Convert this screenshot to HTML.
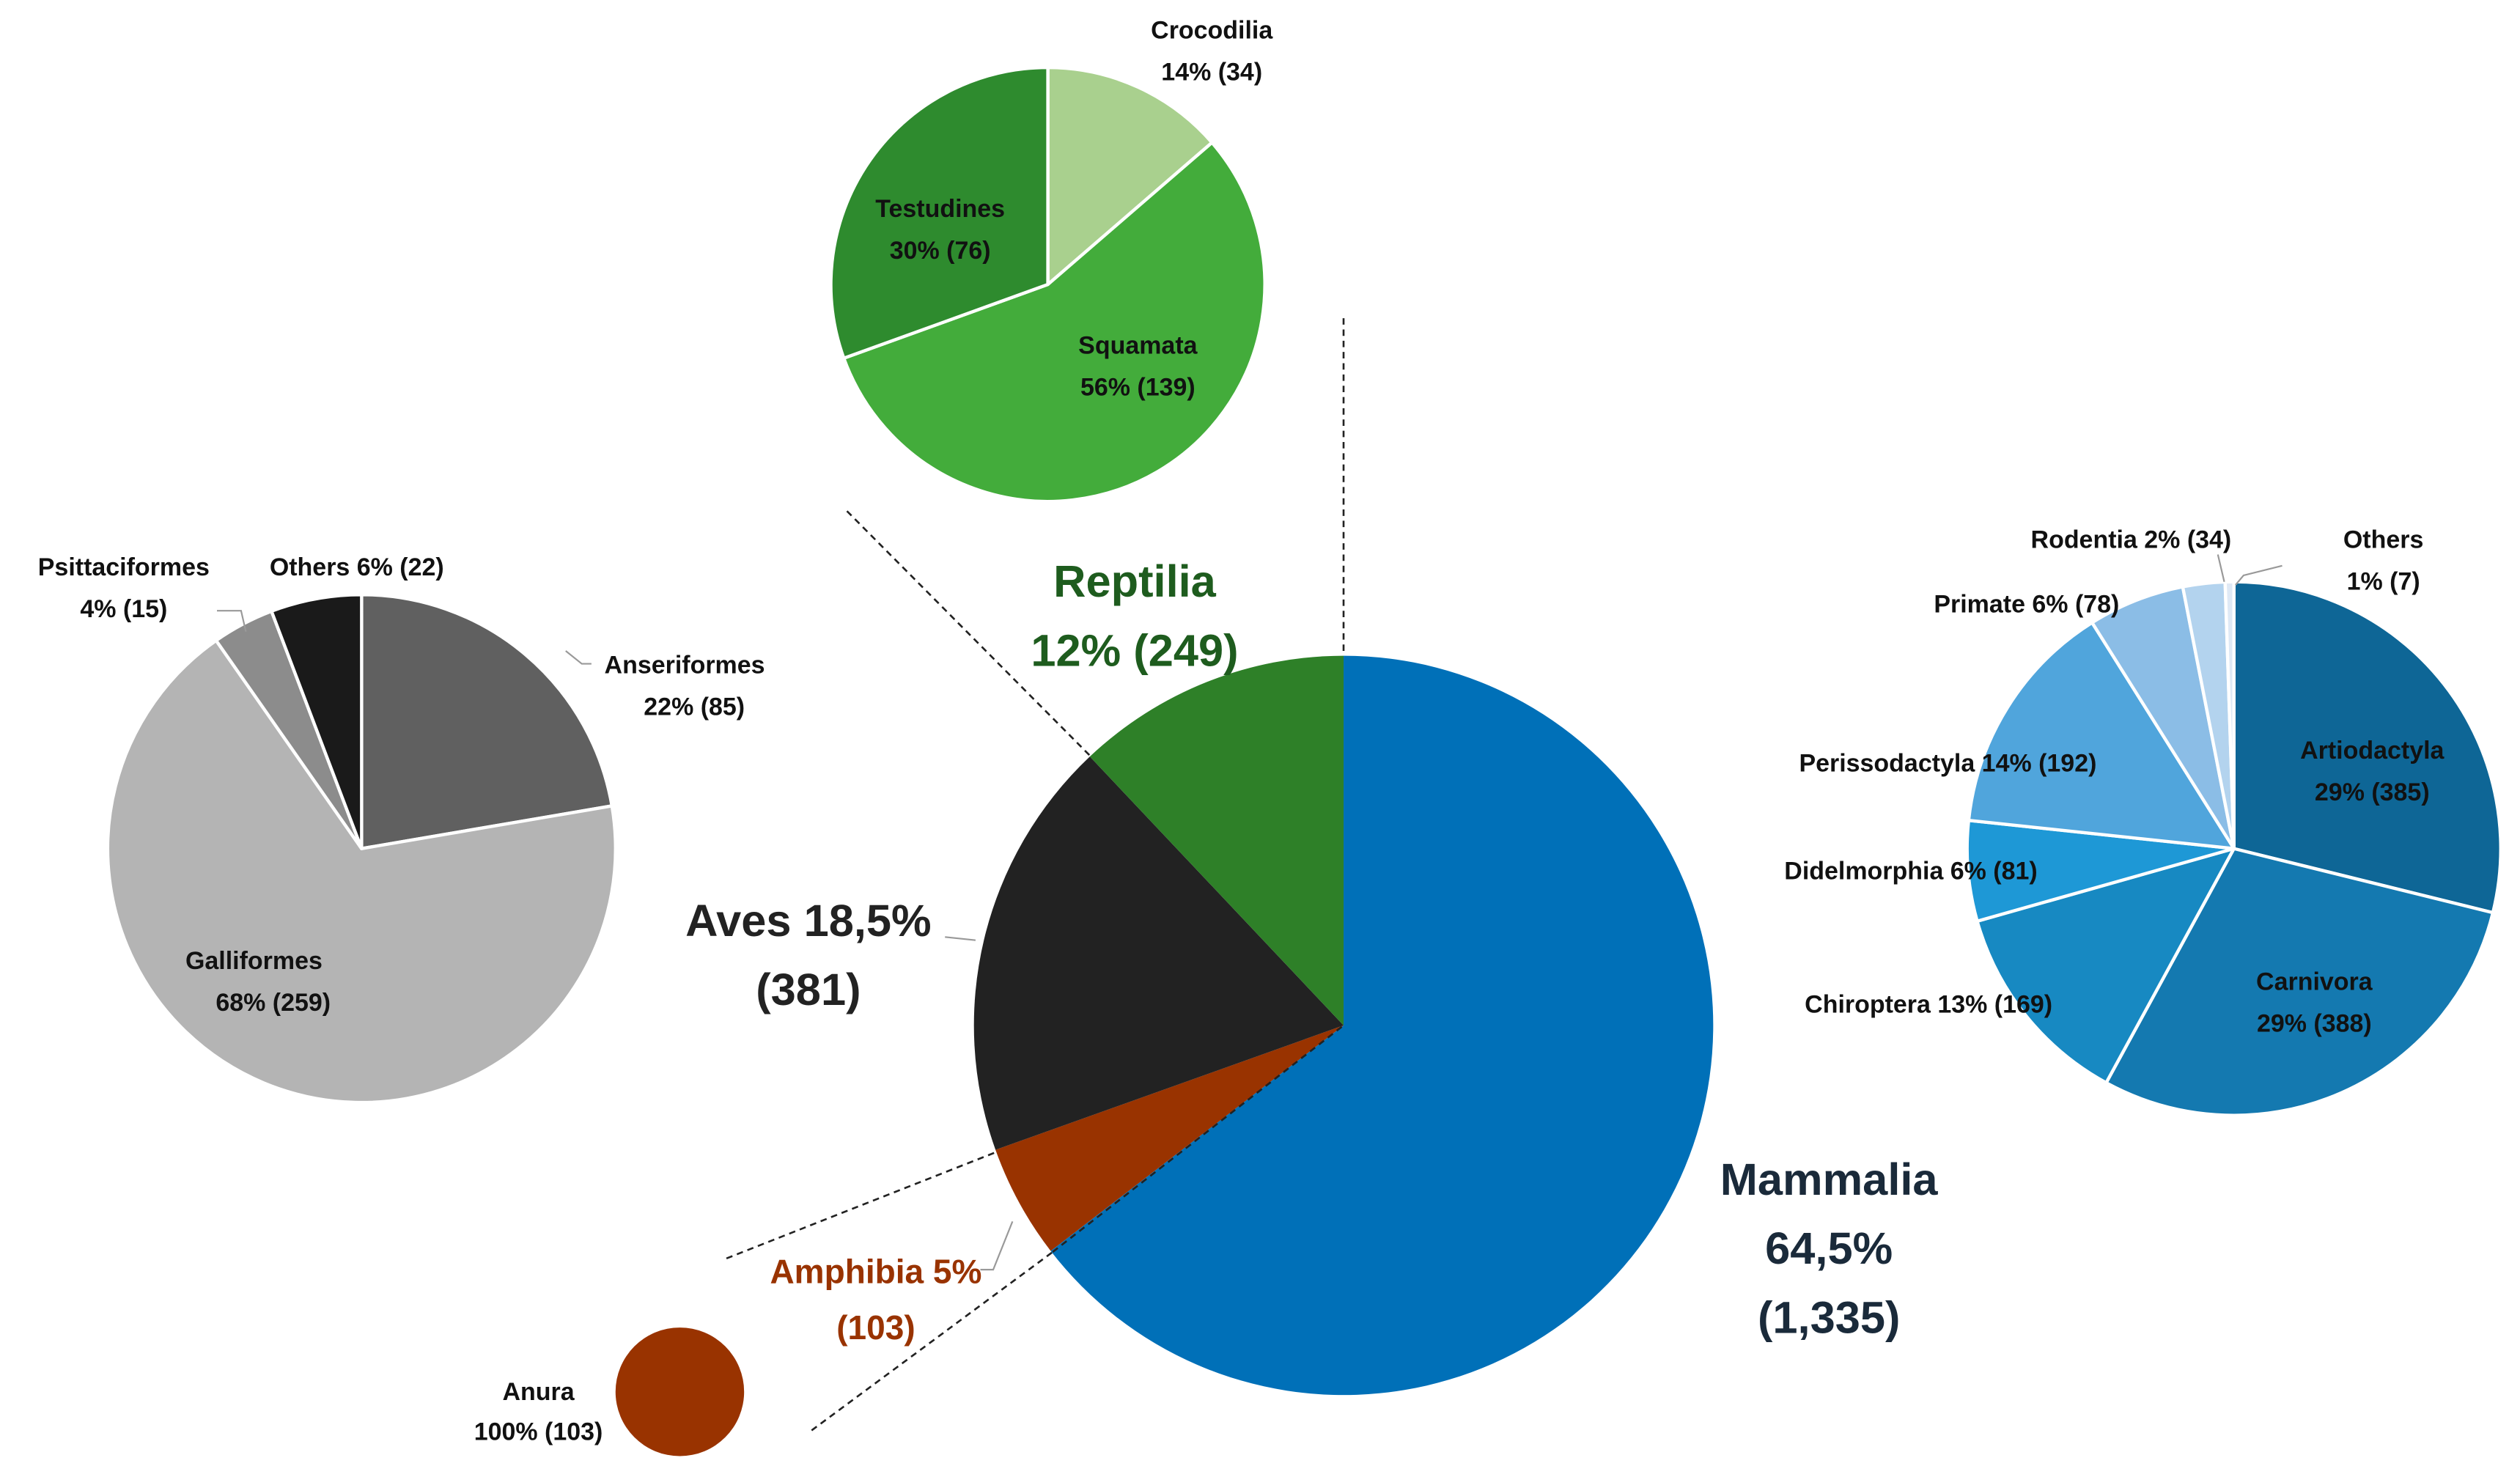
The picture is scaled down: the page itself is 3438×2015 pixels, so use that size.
<!DOCTYPE html>
<html><head><meta charset="utf-8"><style>
html,body{margin:0;padding:0;background:#fff;}
svg{display:block;font-family:"Liberation Sans",sans-serif;font-weight:bold;}
</style></head><body>
<svg id="chart" width="3438" height="2015" viewBox="0 0 1568 919" xmlns="http://www.w3.org/2000/svg">
<g id="lines" stroke="#222" stroke-width="1.2" stroke-dasharray="4,3" fill="none">
  <line x1="527" y1="318" x2="680" y2="472"/>
  <line x1="836" y1="198" x2="836" y2="408"/>
  <line x1="452" y1="783" x2="622" y2="716"/>
  <line x1="505" y1="890" x2="655" y2="779"/>
</g>
<g id="pies"></g>
<line x1="655" y1="779" x2="836" y2="638" stroke="#222" stroke-width="1.2" stroke-dasharray="4,3"/>
<g id="leaders" stroke="#999" stroke-width="1" fill="none">
  <polyline points="588,583 607,585"/>
  <polyline points="610,790 618,790 630,760"/>
  <polyline points="352,405 362,413 368,413"/>
  <polyline points="135,380 150,380 153,393"/>
  <polyline points="1420,352 1396,358 1391,364"/>
  <polyline points="1380,345 1384,362"/>
</g>
<g id="labels"></g>
</svg>
<script>
// Main pie: class counts
const mainCats = ["Mammalia","Amphibia","Aves","Reptilia"];
const mainVals = [1335,103,381,249];
// Reptilia sub-pie
const repCats = ["Crocodilia","Squamata","Testudines"];
const repVals = [34,139,76];
// Aves sub-pie
const avesCats = ["Anseriformes","Galliformes","Psittaciformes","Others"];
const avesVals = [85,259,15,22];
// Mammalia sub-pie
const mamCats = ["Artiodactyla","Carnivora","Chiroptera","Didelmorphia","Perissodactyla","Primate","Rodentia","Others"];
const mamVals = [385,388,169,81,192,78,34,7];
// Amphibia sub-pie
const ampCats = ["Anura"];
const ampVals = [103];

const NS="http://www.w3.org/2000/svg";
const pies=document.getElementById('pies');
function pt(cx,cy,r,a){return [cx+r*Math.sin(a),cy-r*Math.cos(a)];}
function drawPie(name,cats,vals,cx,cy,r,colors,stroke){
  const g=document.createElementNS(NS,'g');
  
  
  pies.appendChild(g);
  const tot=vals.reduce((a,b)=>a+b,0);
  let acc=0;
  cats.forEach((c,i)=>{
    const a0=acc/tot*2*Math.PI; acc+=vals[i]; const a1=acc/tot*2*Math.PI;
    let el;
    if(vals[i]>=tot){
      el=document.createElementNS(NS,'circle');
      el.setAttribute('cx',cx);el.setAttribute('cy',cy);el.setAttribute('r',r);
    } else {
      const p0=pt(cx,cy,r,a0),p1=pt(cx,cy,r,a1);
      el=document.createElementNS(NS,'path');
      el.setAttribute('d',`M${cx},${cy} L${p0[0]},${p0[1]} A${r},${r} 0 ${a1-a0>Math.PI?1:0} 1 ${p1[0]},${p1[1]} Z`);
    }
    el.setAttribute('fill',colors[i]);
    if(stroke){el.setAttribute('stroke','#fff');el.setAttribute('stroke-width','2');el.setAttribute('stroke-linejoin','round');}
    
    
    g.appendChild(el);
  });
}
drawPie('main',mainCats,mainVals,836,638,230,['#0070b8','#993300','#222222','#2e8028'],false);
drawPie('reptilia',repCats,repVals,652,177,135,['#a9d08e','#43ac3b','#2e8b2e'],true);
drawPie('aves',avesCats,avesVals,225,528,158,['#606060','#b4b4b4','#8c8c8c','#1a1a1a'],true);
drawPie('mammalia',mamCats,mamVals,1390,528,166,['#0e6696','#1479b0','#1789c2','#1e98d6','#50a5dc','#8bbde6','#b3d3ee','#dfe9f5'],true);
drawPie('amphibia',ampCats,ampVals,423,866,40,['#993300'],false);

const labels=document.getElementById('labels');
function lab(name,x,y,txt,size,color){
  const t=document.createElementNS(NS,'text');
  t.setAttribute('x',x);t.setAttribute('y',y);
  t.setAttribute('font-size',size);t.setAttribute('fill',color);
  t.setAttribute('text-anchor','middle');t.setAttribute('dominant-baseline','central');
  t.textContent=txt;
  
  
  labels.appendChild(t);
}
const S=15.5,K='#111';
lab('reptilia-label',706,362,'Reptilia',28,'#1e5c1e');
lab('reptilia-value',706,405,'12% (249)',28,'#1e5c1e');
lab('aves-label',503,573,'Aves 18,5%',28,'#222');
lab('aves-value',503,616,'(381)',28,'#222');
lab('mammalia-label',1138,734,'Mammalia',28,'#1a2a3a');
lab('mammalia-pct',1138,777,'64,5%',28,'#1a2a3a');
lab('mammalia-value',1138,820,'(1,335)',28,'#1a2a3a');
lab('amphibia-label',545,791,'Amphibia 5%',21,'#993300');
lab('amphibia-value',545,826,'(103)',21,'#993300');
lab('crocodilia-label',754,19,'Crocodilia',S,K);
lab('crocodilia-value',754,45,'14% (34)',S,K);
lab('testudines-label',585,130,'Testudines',S,K);
lab('testudines-value',585,156,'30% (76)',S,K);
lab('squamata-label',708,215,'Squamata',S,K);
lab('squamata-value',708,241,'56% (139)',S,K);
lab('psittaciformes-label',77,353,'Psittaciformes',S,K);
lab('psittaciformes-value',77,379,'4% (15)',S,K);
lab('aves-others-label',222,353,'Others 6% (22)',S,K);
lab('anseriformes-label',426,414,'Anseriformes',S,K);
lab('anseriformes-value',432,440,'22% (85)',S,K);
lab('galliformes-label',158,598,'Galliformes',S,K);
lab('galliformes-value',170,624,'68%  (259)',S,K);
lab('rodentia-label',1326,336,'Rodentia 2% (34)',S,K);
lab('mammal-others-label',1483,336,'Others',S,K);
lab('mammal-others-value',1483,362,'1% (7)',S,K);
lab('primate-label',1261,376,'Primate 6% (78)',S,K);
lab('artiodactyla-label',1476,467,'Artiodactyla',S,K);
lab('artiodactyla-value',1476,493,'29% (385)',S,K);
lab('perissodactyla-label',1212,475,'Perissodactyla 14% (192)',S,K);
lab('didelmorphia-label',1189,542,'Didelmorphia 6% (81)',S,K);
lab('carnivora-label',1440,611,'Carnivora',S,K);
lab('carnivora-value',1440,637,'29% (388)',S,K);
lab('chiroptera-label',1200,625,'Chiroptera 13% (169)',S,K);
lab('anura-label',335,866,'Anura',S,K);
lab('anura-value',335,891,'100% (103)',S,K);
</script>
</body></html>
